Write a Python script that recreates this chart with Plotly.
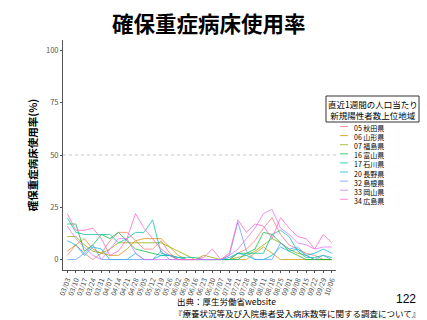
import plotly.graph_objects as go

dates = ["03/03","03/10","03/17","03/24","03/31","04/07","04/14","04/21","04/28","05/05",
         "05/12","05/19","05/26","06/02","06/09","06/16","06/23","06/30","07/07","07/14",
         "07/21","07/28","08/04","08/11","08/18","08/25","09/01","09/08","09/15","09/22",
         "09/29","10/06"]

names = ["05 秋田県","06 山形県","07 福島県","16 富山県","17 石川県",
         "20 長野県","32 島根県","33 岡山県","34 広島県"]
colors = ["#F8766D","#D39200","#93AA00","#00BA38","#00C19F",
          "#00B9E3","#619CFF","#DB72FB","#FF61C3"]

s05 = [2,7,3,0,3,9,13,13,9,5,5,9,3,0,0,0,0,0,0,0,3,5,9,15,20,12,7,5,3,2,0,0]
s06 = [4,7,10,5,3,2,2,5,9,10,10,10,6,2,0,0,0,0,0,0,0,0,3,6,3,0,0,0,0,0,0,0]
s07 = [11,11,7,4,3,5,8,8,8,8,8,8,6,4,2,0,2,1,0,0,1,2,4,7,10,8,5,3,2,0,0,0]
s16 = [17,17,4,7,12,10,13,9,5,4,3,2,2,0,0,0,0,0,0,0,3,3,5,13,12,8,4,2,0,0,0,0]
s17 = [20,13,12,12,12,12,8,10,13,13,19,3,2,1,1,1,0,0,0,0,0,3,3,3,12,14,11,4,1,1,2,1]
s20 = [9,7,2,6,5,0,0,0,3,0,0,2,2,1,0,0,0,0,0,1,3,2,0,0,2,6,4,5,2,3,5,3]
s32 = [0,0,3,7,0,0,0,0,0,0,0,4,0,0,0,0,0,0,0,2,18,4,0,0,0,8,5,6,2,0,2,0]
s33 = [16,10,6,2,0,5,10,10,3,0,0,0,0,0,0,0,0,0,0,2,5,10,15,22,24,15,12,8,7,5,6,6]
s34 = [22,14,14,15,10,2,4,10,22,15,10,5,2,0,0,0,1,5,0,3,19,13,17,16,10,20,15,11,10,5,12,8]
series = [s05, s06, s07, s16, s17, s20, s32, s33, s34]

legend_title = ["直近1週間の人口当たり", "新規陽性者数上位地域"]

FONT = "Noto Sans CJK JP"
fig = go.Figure()
for nm, col, ys in zip(names, colors, series):
    fig.add_trace(go.Scatter(x=list(range(len(dates))), y=ys, mode="lines", name=nm,
                             line=dict(color=col, width=1), opacity=0.75,
                             showlegend=False))

L, R, T, B = 63, 91, 40, 50
W, H = 427, 320
pw, ph = W - L - R, H - T - B
def px(x): return (x - L) / pw
def py(y): return (H - B - y) / ph

shapes = [dict(type="line", xref="x", yref="y", x0=-0.5, x1=31.5, y0=50, y1=50,
               line=dict(color="#C8C8C8", width=1, dash="dot"), layer="below")]
annotations = []
# legend title box
shapes.append(dict(type="rect", xref="paper", yref="paper", x0=px(326), x1=px(419),
                   y0=py(122), y1=py(96), line=dict(color="#333333", width=1),
                   fillcolor="white"))
annotations.append(dict(xref="paper", yref="paper", x=px(372.5), y=py(109),
                        text="<br>".join(legend_title), showarrow=False,
                        font=dict(family=FONT, size=8.5, color="black"),
                        xanchor="center", yanchor="middle", align="center"))
step = 9.1
for i, col in enumerate(colors):
    yy = 126.5 + i * step
    shapes.append(dict(type="line", xref="paper", yref="paper", x0=px(340), x1=px(348),
                       y0=py(yy), y1=py(yy), line=dict(color=col, width=1), opacity=0.75))
annotations.append(dict(xref="paper", yref="paper", x=px(352), y=py(126.5 - step / 2 - 1),
                        text="<br>".join(names), showarrow=False, xanchor="left",
                        yanchor="top", align="left",
                        font=dict(family=FONT, size=7, color="black")))

annotations += [
    dict(xref="paper", yref="paper", x=px(209), y=py(22), text="<b>確保重症病床使用率</b>",
         showarrow=False, xanchor="center", yanchor="middle",
         font=dict(family=FONT, size=21.5, color="black")),
    dict(xref="paper", yref="paper", x=px(175), y=py(301), text="出典：厚生労働省website",
         showarrow=False, xanchor="left", yanchor="middle",
         font=dict(family=FONT, size=8.5, color="black")),
    dict(xref="paper", yref="paper", x=px(172), y=py(313),
         text="『療養状況等及び入院患者受入病床数等に関する調査について』",
         showarrow=False, xanchor="left", yanchor="middle",
         font=dict(family=FONT, size=8.5, color="black")),
    dict(xref="paper", yref="paper", x=px(418), y=py(299), text="122",
         showarrow=False, xanchor="right", yanchor="middle",
         font=dict(family="Liberation Sans", size=12, color="black")),
]

fig.update_layout(
    width=W, height=H, margin=dict(l=L, r=R, t=T, b=B),
    paper_bgcolor="white", plot_bgcolor="white",
    shapes=shapes, annotations=annotations, showlegend=False,
    font=dict(family=FONT),
)
fig.update_xaxes(range=[-0.5, 31.5], tickmode="array", tickvals=list(range(len(dates))),
                 ticktext=dates, tickangle=-70, showgrid=False, zeroline=False,
                 showline=True, linecolor="#555555", linewidth=1,
                 ticks="outside", ticklen=2, tickcolor="#555555",
                 tickfont=dict(size=7, color="#555555", family=FONT))
fig.update_yaxes(range=[-5, 105], tickvals=[0,25,50,75,100], showgrid=False,
                 zeroline=False, showline=True, linecolor="#555555", linewidth=1,
                 ticks="outside", ticklen=2, tickcolor="#555555",
                 tickfont=dict(size=7.5, color="#555555", family=FONT),
                 title=dict(text="<b>確保重症病床使用率(%)</b>", standoff=6,
                            font=dict(size=10.5, color="black", family=FONT)))
fig.write_html("out.html")
